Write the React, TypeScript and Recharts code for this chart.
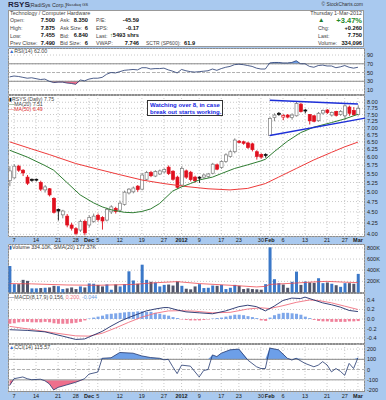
import React from 'react';
import {
  Area,
  Bar,
  CartesianGrid,
  Cell,
  ComposedChart,
  Line,
  ReferenceLine,
  XAxis,
  YAxis,
} from 'recharts';

// trading-day index: 0 = 4-Nov-2011 ... 79 = 1-Mar-2012
const dateTicks = [1, 6, 11, 15, 18, 20, 25, 30, 35, 39, 43, 48, 52, 57, 59, 62, 67, 72, 76, 79];
const dateLabels = ['7', '14', '21', '28', 'Dec', '5', '12', '19', '27', '2012', '9', '17', '23', '30', 'Feb', '6', '13', '21', '27', 'Mar'];

const opens = [
  5.3, 5.38, 5.72, 5.6, 5.4, 5.34, 5.34, 5.25, 5.05, 5.08,
  4.83, 4.56, 4.43, 4.4, 4.2, 4.12, 4.09, 4.28, 4.2, 4.28,
  4.42, 4.37, 4.31, 4.5, 4.58, 4.54, 4.68, 4.97, 5.0, 5.15,
  5.07, 5.34, 5.53, 5.43, 5.49, 5.55, 5.69, 5.57, 5.4, 5.18,
  5.58, 5.54, 5.4, 5.4, 5.4, 5.42, 5.51, 5.76, 5.68, 5.86,
  6.02, 6.17, 6.52, 6.5, 6.46, 6.43, 6.17, 6.08, 6.08, 6.72,
  7.38, 7.55, 7.4, 7.48, 7.38, 7.45, 7.92, 7.68, 7.5, 7.45,
  7.26, 7.56, 7.68, 7.48, 7.62, 7.5, 7.45, 7.8, 7.66, 7.5,
];
const highs = [
  5.72, 5.78, 5.76, 5.63, 5.46, 5.36, 5.36, 5.3, 5.18, 5.1,
  4.86, 4.58, 4.55, 4.45, 4.25, 4.15, 4.32, 4.32, 4.42, 4.46,
  4.46, 4.4, 4.6, 4.66, 4.62, 4.76, 5.03, 5.1, 5.14, 5.18,
  5.52, 5.58, 5.58, 5.6, 5.62, 5.66, 5.74, 5.6, 5.44, 5.72,
  5.62, 5.58, 5.44, 5.42, 5.5, 5.52, 5.82, 5.8, 5.9, 6.12,
  6.22, 6.62, 6.56, 6.54, 6.5, 6.47, 6.22, 6.12, 6.12, 7.4,
  7.55, 7.6, 7.52, 7.52, 7.55, 8.02, 7.98, 7.72, 7.52, 7.48,
  7.6, 7.7, 7.72, 7.62, 7.65, 7.68, 7.9, 7.86, 7.8, 7.875,
];
const lows = [
  5.15, 5.35, 5.55, 5.43, 5.18, 5.27, 5.28, 5.02, 4.98, 4.88,
  4.46, 4.3, 4.35, 4.15, 4.08, 3.98, 4.05, 3.98, 4.15, 4.25,
  4.28, 4.1, 4.28, 4.45, 4.46, 4.5, 4.65, 4.93, 4.96, 5.0,
  5.04, 5.3, 5.4, 5.4, 5.46, 5.52, 5.46, 5.3, 5.08, 5.14,
  5.35, 5.28, 5.24, 5.24, 5.36, 5.38, 5.48, 5.6, 5.64, 5.82,
  5.98, 6.12, 6.45, 6.4, 6.26, 6.18, 5.92, 5.95, 5.98, 6.7,
  7.24, 7.45, 7.28, 7.35, 7.3, 7.42, 7.58, 7.55, 7.12, 7.2,
  7.22, 7.5, 7.52, 7.42, 7.42, 7.45, 7.3, 7.45, 7.45, 7.455,
];
const closes = [
  5.58, 5.72, 5.6, 5.52, 5.23, 5.31, 5.32, 5.07, 5.13, 4.92,
  4.49, 4.52, 4.52, 4.2, 4.13, 4.02, 4.28, 4.03, 4.37, 4.4,
  4.32, 4.29, 4.56, 4.62, 4.51, 4.71, 4.99, 5.07, 5.1, 5.06,
  5.46, 5.53, 5.44, 5.56, 5.58, 5.62, 5.5, 5.34, 5.12, 5.65,
  5.4, 5.33, 5.3, 5.37, 5.46, 5.49, 5.78, 5.63, 5.86, 6.07,
  6.17, 6.56, 6.48, 6.45, 6.31, 6.24, 6.02, 6.0, 6.05, 7.35,
  7.48, 7.5, 7.46, 7.4, 7.48, 7.95, 7.62, 7.64, 7.26, 7.24,
  7.55, 7.66, 7.58, 7.58, 7.47, 7.62, 7.85, 7.55, 7.49, 7.75,
];
const volumes = [
  475000, 150000, 150000, 227000, 209000, 74000, 74000, 80000, 85000, 91000,
  120000, 114000, 62000, 74000, 91000, 62000, 109000, 91000, 162000, 157000,
  137000, 109000, 145000, 50000, 145000, 109000, 150000, 380000, 216000, 157000,
  499000, 227000, 192000, 180000, 109000, 137000, 143000, 125000, 198000, 120000,
  68000, 57000, 109000, 150000, 80000, 85000, 125000, 120000, 137000, 62000,
  85000, 137000, 120000, 62000, 74000, 62000, 57000, 50000, 150000, 811000,
  239000, 168000, 143000, 85000, 192000, 375000, 137000, 198000, 180000, 174000,
  256000, 168000, 180000, 157000, 131000, 102000, 168000, 168000, 157000, 334096,
];
const macdHist = [
  -0.1, -0.09, -0.07, -0.06, -0.06, -0.07, -0.07, -0.07, -0.06, -0.07,
  -0.09, -0.1, -0.1, -0.1, -0.09, -0.08, -0.06, -0.03, 0.01, 0.03,
  0.05, 0.07, 0.1, 0.11, 0.12, 0.13, 0.14, 0.15, 0.15, 0.16,
  0.16, 0.15, 0.15, 0.13, 0.11, 0.09, 0.07, 0.04, 0.02, -0.01,
  -0.02, -0.03, -0.03, -0.03, -0.02, -0.01, 0.01, 0.02, 0.03, 0.05,
  0.07, 0.09, 0.09, 0.08, 0.06, 0.04, 0.02, -0.03, -0.04, 0.03,
  0.08, 0.11, 0.13, 0.13, 0.12, 0.11, 0.09, 0.05, 0.02, -0.02,
  -0.04, -0.05, -0.05, -0.06, -0.06, -0.06, -0.06, -0.05, -0.05, -0.044,
];

// [day index, value]
const ma20 = [[0, 6.22], [4, 6.0], [8, 5.74], [10, 5.6], [13, 5.25], [16, 4.92], [19, 4.72], [21, 4.62], [23, 4.55], [26, 4.49], [28, 4.48], [30, 4.51], [32, 4.57], [34, 4.7], [37, 5.02], [39, 5.13], [41, 5.22], [43, 5.32], [46, 5.4], [48, 5.5], [51, 5.65], [54, 5.76], [57, 5.88], [58, 5.93], [60, 6.17], [63, 6.52], [66, 6.82], [69, 7.02], [73, 7.19], [76, 7.33], [78, 7.45], [79, 7.51]];
const ma50 = [[0, 6.5], [5, 6.26], [9, 6.08], [15, 5.8], [20, 5.63], [25, 5.47], [30, 5.32], [35, 5.22], [40, 5.14], [45, 5.08], [50, 5.05], [54, 5.09], [58, 5.22], [61, 5.4], [65, 5.65], [69, 5.91], [73, 6.15], [76, 6.33], [79, 6.49]];
const volSma = [[0, 160000], [5, 155000], [13, 135000], [20, 130000], [28, 145000], [33, 175000], [38, 195000], [43, 160000], [50, 130000], [56, 100000], [58, 110000], [59, 145000], [64, 165000], [69, 190000], [72, 200000], [76, 185000], [79, 177370]];
const macdLine = [[0, -0.225], [4, -0.24], [8, -0.27], [12, -0.36], [15, -0.43], [17, -0.42], [19, -0.34], [21, -0.26], [23, -0.15], [25, -0.05], [27, 0.03], [29, 0.1], [31, 0.17], [33, 0.21], [35, 0.24], [36, 0.24], [38, 0.19], [40, 0.15], [43, 0.13], [46, 0.11], [49, 0.17], [52, 0.26], [54, 0.29], [56, 0.26], [58, 0.17], [60, 0.27], [62, 0.39], [64, 0.44], [66, 0.43], [67, 0.46], [69, 0.4], [71, 0.34], [73, 0.3], [75, 0.25], [77, 0.18], [79, 0.156]];
const macdSignal = [[0, -0.155], [5, -0.22], [10, -0.29], [15, -0.355], [18, -0.36], [21, -0.3], [24, -0.19], [27, -0.07], [30, 0.04], [33, 0.12], [36, 0.17], [39, 0.175], [42, 0.165], [46, 0.13], [50, 0.14], [54, 0.21], [57, 0.235], [59, 0.22], [62, 0.28], [65, 0.35], [68, 0.4], [70, 0.39], [73, 0.34], [76, 0.27], [79, 0.2]];
const rsi = [[0, 40], [1, 42], [2, 41], [3, 39], [4, 37], [5, 38], [6, 36], [7, 34], [8, 35], [9, 30], [10, 27], [11, 28], [12, 28], [13, 26], [14, 25], [15, 23], [16, 33], [17, 31], [18, 35], [19, 37], [20, 37], [21, 39], [22, 46], [23, 50], [24, 49], [25, 52], [26, 55], [27, 56], [28, 57], [29, 56], [30, 61], [31, 61], [32, 58], [33, 59], [34, 59], [35, 60], [36, 56], [37, 53], [38, 49], [39, 57], [40, 54], [41, 52], [42, 51], [43, 52], [44, 53], [45, 54], [46, 58], [47, 55], [48, 59], [49, 62], [50, 64], [51, 68], [52, 69], [53, 68], [54, 66], [55, 64], [56, 60], [57, 58], [58, 58], [59, 72], [60, 73], [61, 73], [62, 72], [63, 72], [64, 73], [65, 77], [66, 70], [67, 70], [68, 64], [69, 62], [70, 66], [71, 67], [72, 65], [73, 65], [74, 61], [75, 63], [76, 66], [77, 62], [78, 60], [79, 62]];
const cci = [[0, -157], [1, -90], [3, -73], [4, -90], [5, -100], [7, -95], [8, -110], [9, -140], [10, -200], [11, -175], [13, -150], [15, -125], [17, -90], [18, -45], [20, -25], [21, 110], [23, 115], [25, 167], [28, 160], [30, 133], [32, 117], [34, 110], [35, 95], [36, 100], [37, 27], [38, -40], [39, 43], [41, 33], [43, -73], [44, -10], [45, 0], [46, 143], [47, 127], [48, 160], [50, 193], [52, 200], [54, 93], [56, 27], [57, 10], [58, 10], [59, 210], [61, 193], [63, 110], [64, 93], [65, 110], [67, 60], [69, 27], [70, 43], [71, 77], [72, 45], [73, -23], [74, 10], [75, -17], [76, -57], [77, 60], [78, 10], [79, 115]];
// hand-drawn trend lines: [day, price]
const upperTrend = [[59, 8.08], [79, 7.93]];
const lowerTrend = [[59, 6.72], [80.6, 7.36]];

const priceTicks = [4, 4.25, 4.5, 4.75, 5, 5.25, 5.5, 5.75, 6, 6.25, 6.5, 6.75, 7, 7.25, 7.5, 7.75, 8];

const FRAME = '#a9c9ef';
const FONT = '"Liberation Sans", Arial, sans-serif';
const X_DOMAIN = [-0.36, 80.6];
const MARGIN = { top: 0, right: 0, bottom: 0, left: 8 };

const days = opens.map((o, i) => ({
  x: i,
  open: o,
  high: highs[i],
  low: lows[i],
  close: closes[i],
  prev: i ? closes[i - 1] : o,
  volume: volumes[i],
  hist: macdHist[i],
}));
const pts = (arr: number[][]) => arr.map(([x, v]) => ({ x, v }));
const rsiData = rsi.map(([x, v]) => ({ x, v, hi: Math.max(v, 70), lo: Math.min(v, 30) }));
const cciData = cci.map(([x, v]) => ({ x, v, hi: Math.max(v, 100), lo: Math.min(v, -100) }));

function Candle(props: any) {
  const { x, y, width, height, payload } = props;
  const { open, high, low, close, prev } = payload;
  const top = Math.min(y, y + height);
  const bot = Math.max(y, y + height);
  const span = Math.log(high) - Math.log(low) || 1;
  const py = (v: number) => top + ((Math.log(high) - Math.log(v)) / span) * (bot - top);
  const down = close < prev;
  const hollow = close >= open;
  const col = down ? '#e0101e' : '#111';
  const edge = hollow ? (down ? '#e0101e' : '#7a7a7a') : col;
  const cx = x + width / 2;
  const bTop = py(Math.max(open, close));
  const bBot = py(Math.min(open, close));
  return (
    <g>
      <line x1={cx} x2={cx} y1={top} y2={bot} stroke={edge} strokeWidth={0.9} />
      <rect x={x} y={bTop} width={width} height={Math.max(bBot - bTop, 0.9)} fill={hollow ? '#fff' : col} stroke={edge} strokeWidth={0.7} />
    </g>
  );
}

const rightTick = (fmt: (v: number) => string) => (props: any) => (
  <text x={props.x} y={props.y} dy={2} fontSize={5.5} fill="#222" fontFamily={FONT}>
    {fmt(props.payload.value)}
  </text>
);

const DateTick = (props: any) => {
  const label = dateLabels[dateTicks.indexOf(props.payload.value)];
  const bold = isNaN(Number(label)) || label === '2012';
  return (
    <text x={props.x} y={props.y} dy={4.2} textAnchor="middle" fontSize={5.5} fontWeight={bold ? 700 : 400} fill="#1a1a1a" fontFamily={FONT}>
      {label}
    </text>
  );
};

function T({ x, y, r, s = 5.3, b, c = '#444', children }: any) {
  const style: React.CSSProperties = {
    position: 'absolute',
    top: y - s / 2,
    fontSize: s,
    lineHeight: `${s}px`,
    fontWeight: b ? 700 : 400,
    color: c,
    whiteSpace: 'nowrap',
  };
  if (r) style.right = 386 - x;
  else style.left = x;
  return <div style={style}>{children}</div>;
}

function PanelBox({ top, height }: { top: number; height: number }) {
  return (
    <div
      style={{
        position: 'absolute',
        left: 8,
        top,
        width: 357,
        height,
        background: '#fff',
        boxSizing: 'border-box',
        border: '1px solid #8d8d8d',
      }}
    />
  );
}

const hiddenX = (
  <XAxis dataKey="x" type="number" domain={X_DOMAIN} ticks={dateTicks} allowDataOverflow height={0} tick={false} tickLine={false} axisLine={false} />
);
const shownX = (
  <XAxis dataKey="x" type="number" domain={X_DOMAIN} ticks={dateTicks} allowDataOverflow height={7} tickSize={0} tickMargin={1} tickLine={false} axisLine={false} tick={<DateTick />} interval={0} />
);
const grid = <CartesianGrid stroke="#c8c8c8" strokeDasharray="1 2" />;

const quoteRows = [
  ['Open:', '7.500', 'Ask:', '8.350', 'P/E:', '-45.59'],
  ['High:', '7.875', 'Ask Size:', '6', 'EPS:', '-0.17'],
  ['Low:', '7.455', 'Bid:', '6.840', 'Last:', ''],
  ['Prev Close:', '7.490', 'Bid Size:', '6', 'VWAP:', '7.746'],
];

export default function App() {
  return (
    <div style={{ position: 'absolute', left: 0, top: 0, width: 386, height: 400, background: FRAME, fontFamily: FONT, overflow: 'hidden' }}>
      {/* title */}
      <T x={8} y={5} s={8} b c="#1b1b3a">RSYS</T>
      <T x={29} y={5.3} s={5.3} c="#333">(RadiSys Corp.)</T>
      <T x={66} y={5.3} s={4.3} c="#333">Nasdaq GS</T>
      <T x={363} y={5} r s={4.8} c="#333">© StockCharts.com</T>

      {/* quote box */}
      <div style={{ position: 'absolute', left: 8, top: 10, width: 356, height: 37, background: '#fff', border: '1px solid #999', boxSizing: 'border-box' }} />
      <T x={10} y={13.5} s={5.4}>Technology / Computer Hardware</T>
      <T x={362} y={13.5} r s={5.4}>Thursday 1-Mar-2012</T>
      {quoteRows.map((row, i) => {
        const y = 21 + i * 7.6;
        return (
          <React.Fragment key={i}>
            <T x={10} y={y}>{row[0]}</T>
            <T x={55} y={y} r s={5.7} b c="#111">{row[1]}</T>
            <T x={60} y={y}>{row[2]}</T>
            <T x={88} y={y} r s={5.7} b c="#111">{row[3]}</T>
            <T x={96} y={y}>{row[4]}</T>
            <T x={139} y={y} r s={5.7} b c="#111">{row[5]}</T>
          </React.Fragment>
        );
      })}
      <T x={139} y={36.2} r s={5.7} b c="#111">
        <span style={{ color: '#1a8a2a' }}>↑</span>5493 shrs
      </T>
      <T x={146} y={43.8} s={5}>SCTR (SP600):</T>
      <T x={184} y={43.8} s={5.7} b c="#111">61.9</T>
      <T x={318} y={20.5} s={6.5} c="#1f7a2a">▲</T>
      <T x={362} y={20.5} r s={7.5} b c="#1f8a2a">+3.47%</T>
      <T x={318} y={28.5}>Chg:</T>
      <T x={362} y={28.5} r s={5.7} b c="#111">+0.260</T>
      <T x={318} y={36.2}>Last:</T>
      <T x={362} y={36.2} r s={5.7} b c="#111">7.750</T>
      <T x={318} y={43.8}>Volume:</T>
      <T x={362} y={43.8} r s={5.7} b c="#111">334,096</T>

      {/* panel backgrounds */}
      <PanelBox top={48} height={47} />
      <PanelBox top={95} height={142} />
      <PanelBox top={244} height={49} />
      <PanelBox top={293} height={51} />
      <PanelBox top={344} height={48} />

      {/* RSI */}
      <div style={{ position: 'absolute', left: 0, top: 48 }}>
        <ComposedChart width={386} height={47} data={days} margin={MARGIN}>
          {grid}
          {hiddenX}
          <YAxis orientation="right" width={21} domain={[-1.4, 106.1]} ticks={[10, 30, 50, 70, 90]} interval={0} allowDataOverflow tickSize={0} tickMargin={2} axisLine={false} tick={rightTick((v) => String(v))} />
          <ReferenceLine y={70} stroke="#8a8a8a" strokeWidth={1} />
          <ReferenceLine y={30} stroke="#8a8a8a" strokeWidth={1} />
          <ReferenceLine y={50} stroke="#b0b0b0" strokeDasharray="3 2" />
          <Area data={rsiData} dataKey="hi" baseValue={70} stroke="none" fill="#6d9fe8" fillOpacity={1} isAnimationActive={false} />
          <Area data={rsiData} dataKey="lo" baseValue={30} stroke="none" fill="#ee6f8c" fillOpacity={1} isAnimationActive={false} />
          <Line data={rsiData} dataKey="v" stroke="#22376f" strokeWidth={0.8} dot={false} isAnimationActive={false} />
        </ComposedChart>
      </div>
      <T x={9} y={52}><span style={{ color: '#3a6fd0' }}>▲</span>RSI(14) 62.00</T>

      {/* price */}
      <div style={{ position: 'absolute', left: 0, top: 95 }}>
        <ComposedChart width={386} height={149} data={days} margin={MARGIN}>
          {grid}
          {shownX}
          <YAxis orientation="right" width={21} scale="log" domain={[3.944, 8.31]} ticks={priceTicks} interval={0} allowDataOverflow tickSize={0} tickMargin={2} axisLine={false} tick={rightTick((v) => v.toFixed(2))} />
          <Line data={pts(ma50)} dataKey="v" stroke="#ee3b3b" strokeWidth={1} dot={false} isAnimationActive={false} />
          <Line data={pts(ma20)} dataKey="v" stroke="#2f7d32" strokeWidth={1} dot={false} isAnimationActive={false} />
          <Bar dataKey={(d: any) => [d.low, d.high]} barSize={3} shape={<Candle />} isAnimationActive={false} />
          <ReferenceLine segment={upperTrend.map(([x, y]) => ({ x, y }))} stroke="#1d2fd8" strokeWidth={1.5} ifOverflow="visible" />
          <ReferenceLine segment={lowerTrend.map(([x, y]) => ({ x, y }))} stroke="#1d2fd8" strokeWidth={1.5} ifOverflow="visible" />
        </ComposedChart>
      </div>
      <T x={9} y={99.8} s={5.2}><span style={{ color: '#111' }}>▮</span>RSYS (Daily) 7.75</T>
      <T x={9} y={104.8} s={5.2}><span style={{ color: '#2f7d32' }}>—</span>MA(20) 7.51</T>
      <T x={9} y={109.8} s={5.2} c="#e03030"><span style={{ color: '#ee3b3b' }}>—</span>MA(50) 6.49</T>
      <div
        style={{
          position: 'absolute',
          left: 147,
          top: 100,
          width: 76,
          height: 16,
          boxSizing: 'border-box',
          background: '#fff',
          border: '1px solid #333',
          color: '#1426e0',
          fontWeight: 700,
          fontSize: 6,
          lineHeight: '7px',
          padding: '1px 0 0 2px',
          whiteSpace: 'nowrap',
        }}
      >
        Watching over 8, in case
        <br />
        break out starts working.
      </div>

      {/* volume */}
      <div style={{ position: 'absolute', left: 0, top: 244 }}>
        <ComposedChart width={386} height={49} data={days} margin={MARGIN}>
          {grid}
          {hiddenX}
          <YAxis orientation="right" width={21} domain={[-8800, 870000]} ticks={[200000, 400000, 600000, 800000]} interval={0} allowDataOverflow tickSize={0} tickMargin={2} axisLine={false} tick={rightTick((v) => `${v / 1000}K`)} />
          <Bar dataKey="volume" barSize={3} isAnimationActive={false}>
            {days.map((d, i) => (
              <Cell key={i} fill={d.close >= d.prev ? '#3b78c8' : '#50566c'} />
            ))}
          </Bar>
          <Line data={pts(volSma)} dataKey="v" stroke="#ee4a52" strokeWidth={0.8} dot={false} isAnimationActive={false} />
        </ComposedChart>
      </div>
      <T x={9} y={247.5}><span style={{ color: '#2a5fb0' }}>▮</span>Volume 334.10K, SMA(20) 177.37K</T>

      {/* MACD */}
      <div style={{ position: 'absolute', left: 0, top: 293 }}>
        <ComposedChart width={386} height={51} data={days} margin={MARGIN}>
          {grid}
          {hiddenX}
          <YAxis orientation="right" width={21} domain={[-0.526, 0.547]} ticks={[-0.4, -0.2, 0, 0.2, 0.4]} interval={0} allowDataOverflow tickSize={0} tickMargin={2} axisLine={false} tick={rightTick((v) => v.toFixed(1))} />
          <Bar dataKey="hist" barSize={3} isAnimationActive={false}>
            {days.map((d, i) => (
              <Cell key={i} fill={d.hist >= 0 ? '#7ea7ea' : '#f0809a'} />
            ))}
          </Bar>
          <Line data={pts(macdSignal)} dataKey="v" stroke="#f07080" strokeWidth={0.9} dot={false} isAnimationActive={false} />
          <Line data={pts(macdLine)} dataKey="v" stroke="#1f2f6b" strokeWidth={0.9} dot={false} isAnimationActive={false} />
        </ComposedChart>
      </div>
      <T x={9} y={297.5}>
        <span style={{ color: '#1f2f6b' }}>—</span>MACD(8,17,9) 0.156, <span style={{ color: '#f07080' }}>0.200,</span>{' '}
        <span style={{ color: '#6a9ae0' }}>-0.044</span>
      </T>

      {/* CCI */}
      <div style={{ position: 'absolute', left: 0, top: 344 }}>
        <ComposedChart width={386} height={56} data={days} margin={MARGIN}>
          {grid}
          {shownX}
          <YAxis orientation="right" width={21} domain={[-230, 250]} ticks={[-200, -100, 0, 100, 200]} interval={0} allowDataOverflow tickSize={0} tickMargin={2} axisLine={false} tick={rightTick((v) => String(v))} />
          <ReferenceLine y={100} stroke="#8a8a8a" strokeWidth={1} />
          <ReferenceLine y={-100} stroke="#b8b8b8" strokeWidth={1.6} />
          <ReferenceLine y={0} stroke="#b0b0b0" strokeDasharray="3 2" />
          <Area data={cciData} dataKey="hi" baseValue={100} stroke="none" fill="#6d9fe8" fillOpacity={1} isAnimationActive={false} />
          <Area data={cciData} dataKey="lo" baseValue={-100} stroke="none" fill="#ee6f8c" fillOpacity={1} isAnimationActive={false} />
          <Line data={cciData} dataKey="v" stroke="#22376f" strokeWidth={0.8} dot={false} isAnimationActive={false} />
        </ComposedChart>
      </div>
      <T x={9} y={347.5}><span style={{ color: '#3a6fd0' }}>▲</span>CCI(14) 115.57</T>
    </div>
  );
}
